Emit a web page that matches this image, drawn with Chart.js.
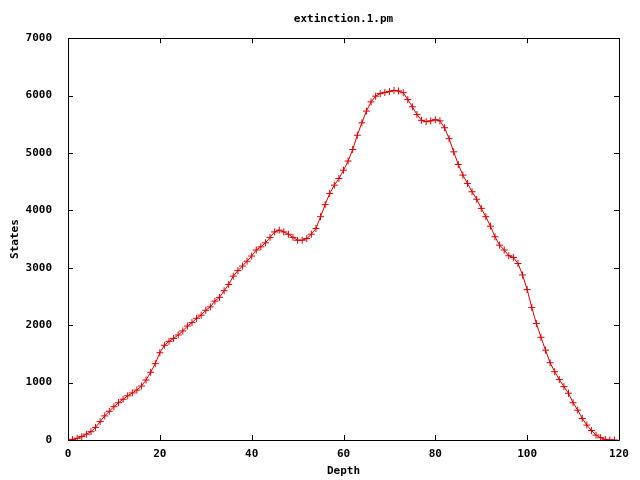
<!DOCTYPE html>
<html>
<head>
<meta charset="utf-8">
<script src="https://cdn.jsdelivr.net/npm/chart.js@4/dist/chart.umd.min.js"></script>
<style>
html,body{margin:0;padding:0;background:#fff;}
#wrap{width:640px;height:480px;position:relative;}
</style>
</head>
<body>
<div id="wrap"><canvas id="c" width="640" height="480"></canvas></div>
<script>
// Data
const depths = [];
for (let d = 0; d <= 119; d++) depths.push(d);
const states = [
  0, 10, 30, 60, 100, 145, 220, 320, 420, 500,
  580, 650, 710, 770, 820, 870, 940, 1045, 1180, 1330,
  1520, 1650, 1720, 1770, 1830, 1900, 1985, 2045, 2120, 2175,
  2260, 2320, 2420, 2485, 2600, 2710, 2855, 2950, 3030, 3115,
  3205, 3310, 3365, 3435, 3530, 3625, 3655, 3625, 3585, 3530,
  3480, 3480, 3510, 3585, 3685, 3890, 4100, 4295, 4440, 4555,
  4700, 4860, 5060, 5310, 5525, 5730, 5890, 5990, 6035, 6055,
  6070, 6090, 6080, 6050, 5930, 5805, 5670, 5570, 5545, 5560,
  5580, 5560, 5440, 5250, 5020, 4800, 4615, 4470, 4325, 4195,
  4035, 3890, 3725, 3540, 3395, 3310, 3210, 3180, 3075, 2875,
  2620, 2310, 2030, 1790, 1565, 1345, 1190, 1055, 930, 815,
  650, 520, 375, 260, 165, 85, 40, 12, 0, 0
];
const xTicks = [0, 20, 40, 60, 80, 100, 120];
const yTicks = [0, 1000, 2000, 3000, 4000, 5000, 6000, 7000];
const titleText = "extinction.1.pm";
const xLabel = "Depth";
const yLabel = "States";

const FONT = "'DejaVu Sans Mono', 'Liberation Mono', monospace";
const RED = '#d80000';

const framePlugin = {
  id: 'frame',
  afterDraw(chart) {
    const ctx = chart.ctx;
    const a = chart.chartArea;
    const xs = chart.scales.x, ys = chart.scales.y;
    ctx.save();
    ctx.strokeStyle = '#000';
    ctx.lineWidth = 1;
    ctx.beginPath();
    ctx.rect(Math.round(a.left) + 0.5, Math.round(a.top) + 0.5,
             Math.round(a.right - a.left), Math.round(a.bottom - a.top));
    ctx.stroke();
    const L = 5;
    ctx.beginPath();
    xTicks.forEach(v => {
      const px = Math.round(xs.getPixelForValue(v)) + 0.5;
      ctx.moveTo(px, a.bottom); ctx.lineTo(px, a.bottom - L);
      ctx.moveTo(px, a.top); ctx.lineTo(px, a.top + L);
    });
    yTicks.forEach(v => {
      const py = Math.round(ys.getPixelForValue(v)) + 0.5;
      ctx.moveTo(a.left, py); ctx.lineTo(a.left + L, py);
      ctx.moveTo(a.right, py); ctx.lineTo(a.right - L, py);
    });
    ctx.stroke();
    ctx.restore();
  }
};

new Chart(document.getElementById('c'), {
  type: 'line',
  data: {
    labels: depths,
    datasets: [{
      data: depths.map((d, i) => ({x: d, y: states[i]})),
      borderColor: RED,
      backgroundColor: RED,
      borderWidth: 1,
      pointStyle: 'cross',
      pointRadius: 3.5,
      pointBorderWidth: 1,
      pointBorderColor: RED,
      tension: 0,
      fill: false
    }]
  },
  options: {
    responsive: false,
    animation: false,
    devicePixelRatio: 1,
    layout: { padding: { left: 0, right: 21, top: 0, bottom: 0 } },
    plugins: {
      legend: { display: false },
      tooltip: { enabled: false },
      title: {
        display: true,
        text: titleText,
        fullSize: false,
        color: '#000',
        font: { family: FONT, size: 11, weight: 'bold' },
        padding: { top: 13, bottom: 12 }
      }
    },
    scales: {
      x: {
        type: 'linear',
        min: 0, max: 120,
        afterBuildTicks: s => { s.ticks = xTicks.map(v => ({value: v})); },
        afterFit: s => { s.height = 40; },
        grid: { display: false },
        border: { display: false },
        ticks: {
          color: '#000',
          padding: 0,
          maxRotation: 0,
          callback: v => String(v),
          font: { family: FONT, size: 11, weight: 'bold' }
        },
        title: {
          display: true, text: xLabel, color: '#000',
          padding: { top: 4, bottom: 2 },
          font: { family: FONT, size: 11, weight: 'bold' }
        }
      },
      y: {
        type: 'linear',
        min: 0, max: 7000,
        afterBuildTicks: s => { s.ticks = yTicks.map(v => ({value: v})); },
        afterFit: s => { s.width = 68; },
        grid: { display: false },
        border: { display: false },
        ticks: {
          color: '#000',
          padding: 8,
          callback: v => String(v),
          font: { family: FONT, size: 11, weight: 'bold' }
        },
        title: {
          display: true, text: yLabel, color: '#000',
          padding: { top: 9, bottom: 0 },
          font: { family: FONT, size: 11, weight: 'bold' }
        }
      }
    }
  },
  plugins: [framePlugin]
});
</script>
</body>
</html>
